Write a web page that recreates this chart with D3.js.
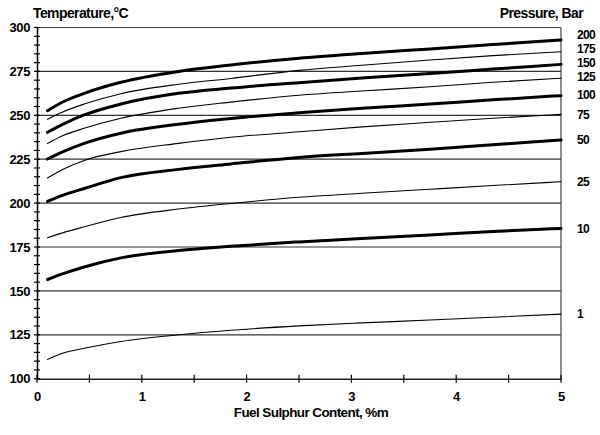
<!DOCTYPE html>
<html>
<head>
<meta charset="utf-8">
<script src="https://cdn.jsdelivr.net/npm/d3@7"></script>
<style>
  html, body { margin: 0; padding: 0; background: #fff; }
  svg { display: block; }
  text { font-family: "Liberation Sans", Arial, sans-serif; font-weight: bold; fill: #000; }
</style>
</head>
<body>
<svg id="chart" width="600" height="435"></svg>
<script>
// ---- Data ----
const sulphur = [0.1, 0.25, 0.45, 0.8, 1.35, 1.85, 2.5, 3.1, 3.75, 4.35, 5.0];
const pressures = [200, 175, 150, 125, 100, 75, 50, 25, 10, 1];
const p200 = [252.6, 257.7, 262.5, 268.8, 275.0, 278.6, 282.5, 285.2, 287.8, 290.3, 292.9];
const p175 = [247.7, 252.0, 256.4, 262.3, 267.7, 271.0, 275.6, 278.5, 281.5, 284.0, 286.2];
const p150 = [240.3, 245.0, 250.2, 256.4, 262.5, 265.5, 268.6, 271.2, 273.8, 276.3, 279.0];
const p125 = [234.0, 238.5, 242.6, 248.3, 254.0, 257.5, 261.4, 263.8, 266.3, 268.8, 271.1];
const p100 = [225.1, 229.3, 234.0, 239.8, 244.9, 248.2, 251.4, 254.0, 256.4, 258.8, 261.2];
const p75  = [214.3, 219.3, 224.3, 229.3, 234.0, 237.5, 240.6, 243.4, 246.0, 248.3, 250.5];
const p50  = [201.0, 204.5, 208.3, 214.5, 219.2, 222.3, 226.0, 228.3, 230.7, 233.2, 235.9];
const p25  = [180.3, 183.2, 186.5, 191.8, 196.6, 199.8, 203.3, 205.6, 207.9, 210.0, 212.2];
const p10  = [156.5, 159.8, 163.6, 168.8, 173.0, 175.4, 177.9, 179.9, 181.9, 183.8, 185.6];
const p1   = [111.0, 114.6, 117.3, 121.2, 125.0, 127.6, 130.1, 131.8, 133.4, 135.0, 136.8];
const seriesValues = [p200, p175, p150, p125, p100, p75, p50, p25, p10, p1];
const yTicks = [100, 125, 150, 175, 200, 225, 250, 275, 300];
const xTicks = [0, 1, 2, 3, 4, 5];
const yTitle = "Temperature,°C";
const rTitle = "Pressure, Bar";
const xTitle = "Fuel Sulphur Content, %m";

// ---- Chart ----
const svg = d3.select("#chart");
const x = d3.scaleLinear().domain([0, 5]).range([37, 561]);
const y = d3.scaleLinear().domain([100, 300]).range([378.7, 27.5]);

// gridlines
svg.append("g").selectAll("line")
  .data(yTicks.filter(v => v > 100 && v < 300))
  .join("line")
  .attr("x1", x(0)).attr("x2", x(5))
  .attr("y1", d => y(d)).attr("y2", d => y(d))
  .attr("stroke", "#333").attr("stroke-width", 1.2);

// frame: top and right
svg.append("line").attr("x1", x(0)).attr("x2", x(5)).attr("y1", y(300)).attr("y2", y(300))
  .attr("stroke", "#444").attr("stroke-width", 1.2);
svg.append("line").attr("x1", x(5)).attr("x2", x(5)).attr("y1", y(300)).attr("y2", y(100))
  .attr("stroke", "#444").attr("stroke-width", 1.2);

// y axis
const yAxis = svg.append("g").attr("transform", `translate(${x(0)},0)`)
  .call(d3.axisLeft(y).tickValues(yTicks).tickSize(0).tickPadding(7).tickFormat(d3.format("d")));
yAxis.select(".domain").attr("stroke", "#000").attr("stroke-width", 1.5);
yAxis.selectAll("text").style("font-size", "13px").style("letter-spacing", "-0.4px");
svg.append("g").selectAll("line")
  .data(d3.range(100, 301, 5))
  .join("line")
  .attr("x1", x(0) - 3).attr("x2", x(0) + 3)
  .attr("y1", d => y(d)).attr("y2", d => y(d))
  .attr("stroke", "#000").attr("stroke-width", 1.2);

// x axis
const xAxis = svg.append("g").attr("transform", `translate(0,${y(100)})`)
  .call(d3.axisBottom(x).tickValues(xTicks).tickSize(0).tickPadding(13).tickFormat(d3.format("d")));
xAxis.select(".domain").attr("stroke", "#222").attr("stroke-width", 1.5);
xAxis.selectAll("text").style("font-size", "13px");
svg.append("g").selectAll("line")
  .data(d3.range(0, 5.01, 0.5))
  .join("line")
  .attr("x1", d => x(d)).attr("x2", d => x(d))
  .attr("y1", y(100) - 4).attr("y2", y(100) + 4)
  .attr("stroke", "#000").attr("stroke-width", 1.2);

// curves
const line = d3.line().x((d, i) => x(sulphur[i])).y(d => y(d)).curve(d3.curveMonotoneX);
svg.append("g").selectAll("path")
  .data(seriesValues)
  .join("path")
  .attr("d", d => line(d))
  .attr("fill", "none")
  .attr("stroke", "#000")
  .attr("stroke-width", (d, i) => i % 2 === 0 ? 3 : 1.1)
  .attr("stroke-linecap", "round")
  .attr("stroke-linejoin", "round");

// pressure labels on right
const labelShift = [-5, -3, -2, -1, -1, 0, 0, 0, 0, 0];
svg.append("g").selectAll("text")
  .data(pressures)
  .join("text")
  .attr("x", 577)
  .attr("y", (d, i) => y(seriesValues[i][seriesValues[i].length - 1]) + labelShift[i])
  .attr("dy", "0.35em")
  .style("font-size", "12px")
  .style("letter-spacing", "-0.7px")
  .text(d => d);

// titles
svg.append("text").attr("x", 33).attr("y", 18).style("font-size", "14px").style("letter-spacing", "-0.6px").text(yTitle);
svg.append("text").attr("x", 583).attr("y", 18).attr("text-anchor", "end").style("font-size", "14px").style("letter-spacing", "-0.6px").text(rTitle);
svg.append("text").attr("x", 311).attr("y", 417).attr("text-anchor", "middle").style("font-size", "13.5px").style("letter-spacing", "-0.6px").text(xTitle);
</script>
</body>
</html>
